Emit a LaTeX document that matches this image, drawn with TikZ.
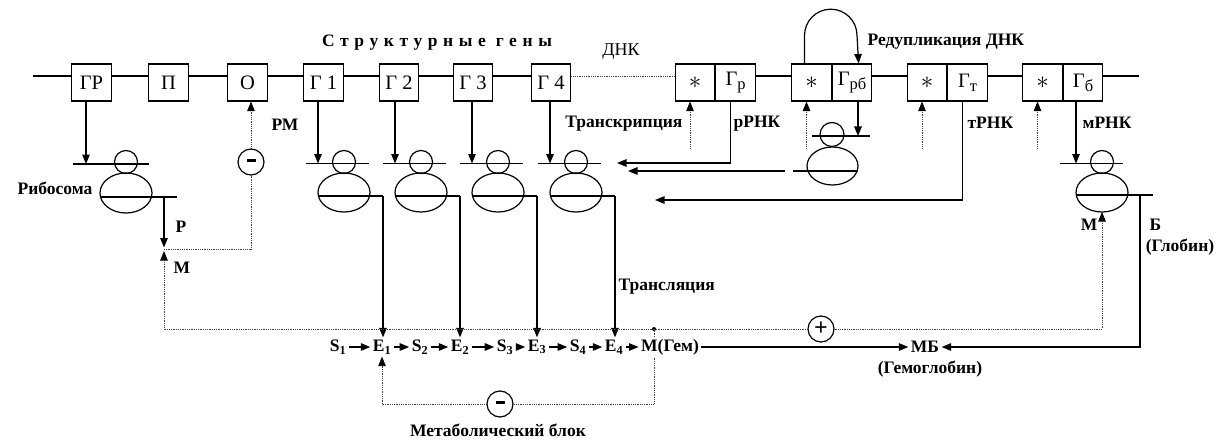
\documentclass[tikz,border=0pt]{standalone}
\usepackage{fontspec}
\setmainfont{Liberation Serif}
\usetikzlibrary{arrows.meta}
\usetikzlibrary{calc}
\usetikzlibrary{positioning}

\newcommand{\boxfont}{\fontsize{20.5}{22}\selectfont}
\newcommand{\lblfont}{\fontsize{17.5}{19}\selectfont\bfseries}
\newcommand{\lowsub}[1]{\raisebox{-0.4ex}{\fontsize{16.5}{16}\selectfont #1}}
\newcommand{\promark}{{\fontsize{30}{30}\selectfont$\ast$}}

\tikzset{
  gen/.style={draw, line width=1.1pt, fill=white, minimum width=39.5pt, minimum height=37pt, inner sep=0pt, font=\boxfont},
  lbl/.style={font=\lblfont, inner sep=1pt},
  chem/.style={font=\lblfont, inner sep=2pt},
  arr/.style={-{Triangle[length=9.5pt,width=7.5pt,black]}},
  fb/.style={densely dotted, line width=0.8pt, black!75},
  sgn/.style={draw, circle, line width=1.2pt, fill=white, minimum size=26pt, inner sep=0pt, font=\fontsize{24}{24}\selectfont\bfseries},
}

\begin{document}
\begin{tikzpicture}[x=1pt,y=-1pt,line width=1.2pt]
\useasboundingbox (0,0) rectangle (1220,441);

    % gene row
    \node[gen] (gr) at (91.5,82.5) {ГР};
    \node[gen] (p) at (168.5,82.5) {П};
    \node[gen] (o) at (247.5,82.5) {О};
    \node[gen] (g1) at (323.5,82.5) {Г 1};
    \node[gen] (g2) at (399,82.5) {Г 2};
    \node[gen] (g3) at (473,82.5) {Г 3};
    \node[gen] (g4) at (551,82.5) {Г 4};
    \node[gen] (ss1) at (695,82.5) {\promark};
    \node[gen, right=0pt of ss1] (gp) {Г\lowsub{р}};
    \node[gen] (ss2) at (811.5,82.5) {\promark};
    \node[gen, right=0pt of ss2] (grb) {Г\lowsub{рб}};
    \node[gen] (ss3) at (927,82.5) {\promark};
    \node[gen, right=0pt of ss3] (gt) {Г\lowsub{т}};
    \node[gen] (ss4) at (1042.5,82.5) {\promark};
    \node[gen, right=0pt of ss4] (gb) {Г\lowsub{б}};

    \coordinate (dnaL) at (33,76);
    \coordinate (dnaR) at (1139,76);
    \draw (dnaL) -- (gr.west |- dnaL);
    \foreach \a/\b in {gr/p,p/o,o/g1,g1/g2,g2/g3,g3/g4,gp/ss2,grb/ss3,gt/ss4}
        \draw (\a.east |- dnaL) -- (\b.west |- dnaL);
    \draw[fb] (g4.east |- dnaL) -- (ss1.west |- dnaL);
    \draw (gb.east |- dnaL) -- (dnaR);

    % labels
    \node[lbl] (sgen) at (437,43) {\addfontfeatures{LetterSpace=32}Структурные гены};
    \node[font=\fontsize{18}{19}\selectfont] (dnk) at (621,52) {ДНК};
    \node[lbl, anchor=west] (redup) at (866,42) {Редупликация ДНК};
    \node[lbl, anchor=east] (trc) at (684,124) {Транскрипция};
    \node[lbl, anchor=west] (rrna) at (732,124) {рРНК};
    \node[lbl, anchor=west] (trna) at (966,123) {тРНК};
    \node[lbl, anchor=west] (mrna) at (1081,123) {мРНК};
    \node[lbl] (ribo) at (55,188) {Рибосома};
    \node[lbl, anchor=west] (rmlbl) at (270,125) {РМ};
    \node[lbl, anchor=west] (plbl) at (174,227) {Р};
    \node[lbl, anchor=west] (mlbl) at (172,268) {М};
    \node[lbl, anchor=east] (mlbr) at (1099,225) {М};
    \node[lbl, anchor=west] (blbl) at (1148,225) {Б};
    \node[lbl] (glob) at (1180,247) {(Глобин)};
    \node[lbl, anchor=west] (transl) at (617,287) {Трансляция};
    \node[lbl] (mblk) at (498,430) {Метаболический блок};

    % metabolic chain
    \node[chem] (s1) at (338,347) {S\textsubscript{1}};
    \node[chem] (e1) at (382,347) {E\textsubscript{1}};
    \node[chem] (s2) at (420,347) {S\textsubscript{2}};
    \node[chem] (e2) at (460,347) {E\textsubscript{2}};
    \node[chem] (s3) at (505,347) {S\textsubscript{3}};
    \node[chem] (e3) at (537,347) {E\textsubscript{3}};
    \node[chem] (s4) at (578,347) {S\textsubscript{4}};
    \node[chem] (e4) at (614,347) {E\textsubscript{4}};
    \node[chem] (mgem) at (670,347) {М(Гем)};
    \node[chem] (mb) at (925,347) {МБ};
    \node[lbl] (hgl) at (930,369) {(Гемоглобин)};
    \foreach \a/\b in {s1/e1,e1/s2,s2/e2,e2/s3,s3/e3,e3/s4,s4/e4,e4/mgem}
        \draw[arr] (\a) -- (\b);
    \draw[arr] (mgem) -- (mb);

    % ribosomes on structural genes
    \foreach \c/\i in {344/1,421/2,498/3,576/4} {
        \draw (\c,162) circle (11.5pt);
        \draw (\c-38,163.5) -- (\c+25,163.5);
        \draw (\c,192.5) ellipse [x radius=26pt, y radius=19.5pt];
        \draw (\c-26,196) -- (\c+39,196);
        \coordinate (rin\i) at (\c-26,163.5);
        \coordinate (rout\i) at (\c+39,196);
    }
    \foreach \i in {1,...,4} {
        \draw[arr] (rin\i |- g\i.south) -- (rin\i);
        \draw[arr] (rout\i) -- (rout\i |- e\i.north);
    }

    % regulator ribosome
    \draw (126,162) circle (11.5pt);
    \draw (73,164) -- (149,164);
    \draw (126,193) ellipse [x radius=26pt, y radius=20pt];
    \draw (100,197) -- (177,197);
    \coordinate (r0in) at (86,164);
    \coordinate (r0out) at (164,197);
    \coordinate (pm) at (164,249);
    \coordinate (jn) at (654,329);
    \draw[arr] (r0in |- gr.south) -- (r0in);
    \draw[arr] (r0out) -- ([yshift=1.5pt]pm);
    \node[sgn] (neg1) at (251,162) {\rule[0.3ex]{9pt}{2.6pt}};
    \draw[fb] (pm) -| (neg1);
    \draw[fb,arr] (neg1) -- (neg1 |- o.south);

    % transcription and RNA
    \foreach \i in {1,...,4}
        \draw[fb,arr] ([xshift=-5pt,yshift=-47pt]ss\i.south) -- ([xshift=-5pt]ss\i.south);
    \draw[arr] ([xshift=-7pt]ss2.north) -- ++(0,-28) arc[start angle=180, end angle=0, radius=26.25pt] -- ([xshift=6.5pt]grb.north);
    \coordinate (rr1) at (617,163);
    \coordinate (rr2a) at (785,171);
    \coordinate (rr2) at (628,171);
    \coordinate (rr3) at (655,200);
    \draw[arr] ([xshift=-5.5pt]gp.south) |- (rr1);
    \draw[arr] (rr2a) -- (rr2);
    \draw[arr] ([xshift=-5.5pt]gt.south) |- (rr3);

    % ribosome under Grb
    \draw (832,134.5) circle (12pt);
    \draw (812,136) -- (870,136);
    \draw (832.5,166) ellipse [x radius=25.5pt, y radius=19pt];
    \draw (793,171) -- (858,171);
    \coordinate (rbin) at (858,136);
    \draw[arr] (rbin |- grb.south) -- (rbin);

    % globin ribosome
    \draw (1102,162) circle (11.5pt);
    \draw (1060,163.5) -- (1123,163.5);
    \draw (1102,192.5) ellipse [x radius=26pt, y radius=19.5pt];
    \draw (1077,195) -- (1153,195);
    \coordinate (rgin) at (1076,163.5);
    \coordinate (rgout) at (1140,195);
    \coordinate (rgm) at (1102,212);
    \draw[arr] (rgin |- gb.south) -- (rgin);
    \draw[arr] (rgout) |- (mb);

    % feedback
    \fill (jn) circle (2pt);
    \node[sgn] (pos) at (821,329) {+};
    \draw[fb,arr] (jn) -| ([yshift=-2pt]pm);
    \draw[fb] (jn) -- (pos);
    \draw[fb,arr] (pos) -| (rgm);
    \node[sgn] (neg2) at (500,404) {\rule[0.3ex]{9pt}{2.6pt}};
    \draw[fb] (jn) -- (jn |- mgem.north);
    \draw[fb] (jn |- mgem.south) |- (neg2);
    \draw[fb,arr] (neg2) -| (e1.south);
\end{tikzpicture}
\end{document}
